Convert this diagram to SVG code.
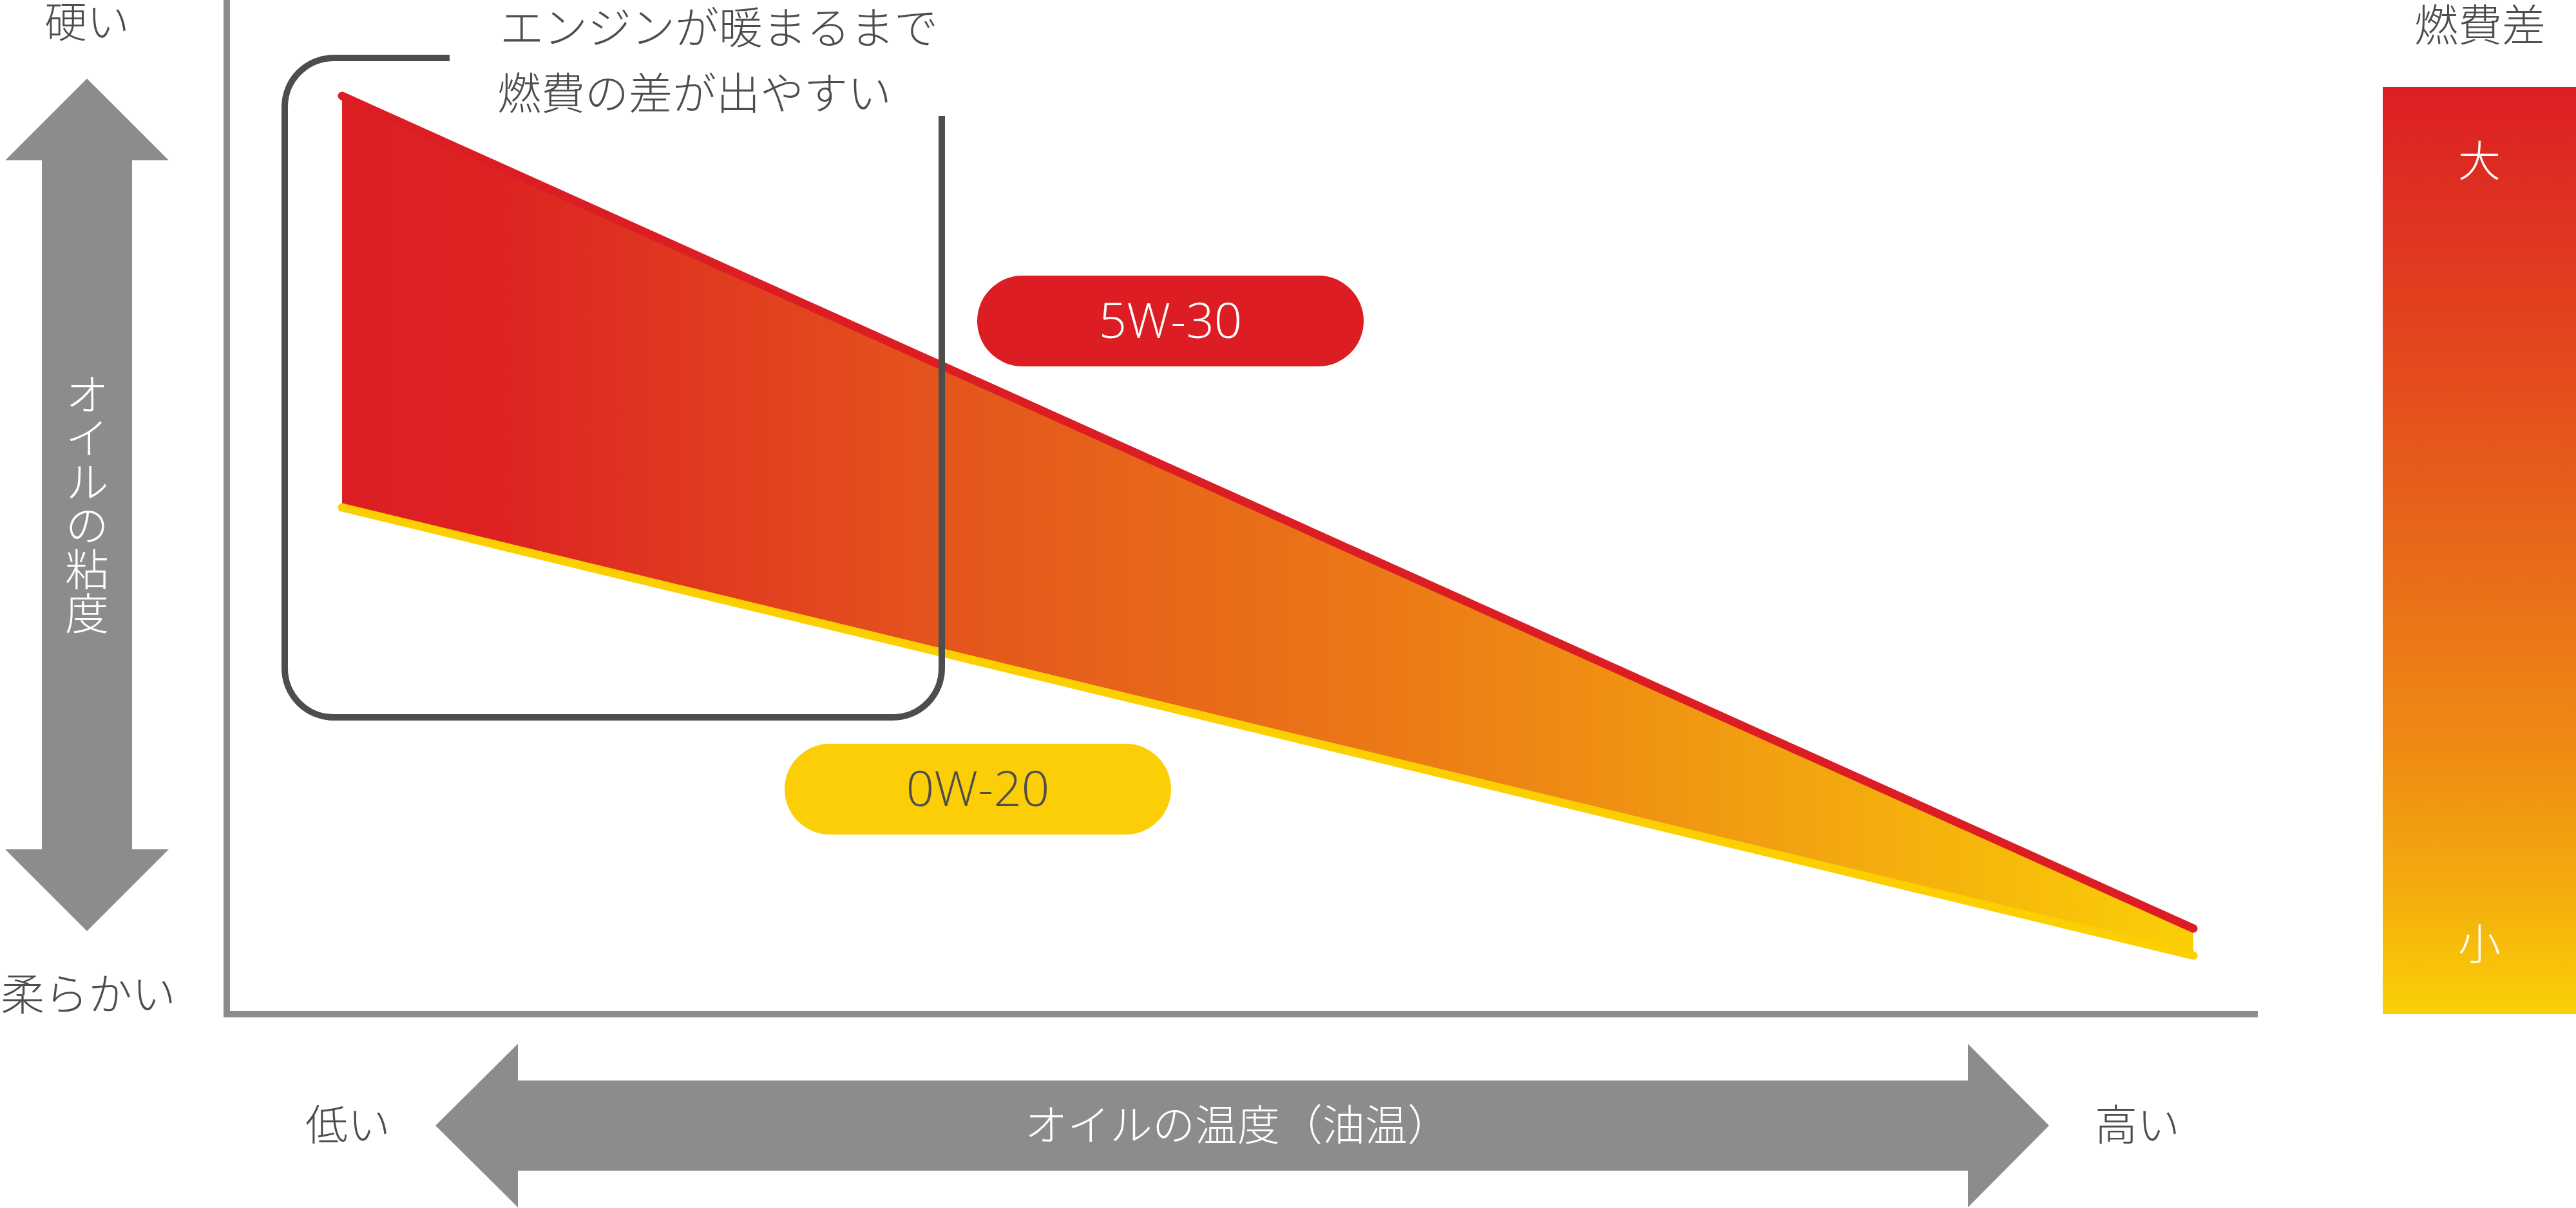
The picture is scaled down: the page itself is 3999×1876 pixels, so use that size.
<svg xmlns="http://www.w3.org/2000/svg" width="3999" height="1876" viewBox="0 0 3999 1876">
<style>
  .t { font-family: "Noto Sans CJK JP Light", "Noto Sans CJK JP", "Noto Sans", sans-serif; font-weight: 300; }
  .lat { font-family: "Open Sans Light", "Open Sans", "Noto Sans CJK JP Light", "Noto Sans CJK JP", sans-serif; font-weight: 300; }
  .dark { fill: #4d4d4d; }
  .white { fill: #ffffff; }
  .mid { text-anchor: middle; }
  .gray { fill: #8c8c8c; }
  .axis { stroke: #8c8c8c; stroke-width: 10; fill: none; }
</style>
<defs>
  <linearGradient id="bandGrad" gradientUnits="userSpaceOnUse" x1="531" y1="0" x2="3405" y2="0">
    <stop offset="0" stop-color="#dc1f24"/>
    <stop offset="0.08" stop-color="#dd2223"/>
    <stop offset="0.32" stop-color="#e4541c"/>
    <stop offset="0.56" stop-color="#eb7816"/>
    <stop offset="0.78" stop-color="#f2a210"/>
    <stop offset="1" stop-color="#fbcf07"/>
  </linearGradient>
  <linearGradient id="legendGrad" x1="0" y1="0" x2="0" y2="1">
    <stop offset="0" stop-color="#dc1f24"/>
    <stop offset="0.25" stop-color="#e2421e"/>
    <stop offset="0.5" stop-color="#e8691a"/>
    <stop offset="0.72" stop-color="#ef8c13"/>
    <stop offset="0.87" stop-color="#f4ad0e"/>
    <stop offset="1" stop-color="#fbd008"/>
  </linearGradient>
</defs>

<g id="viscosity-axis">
  <polygon class="gray" points="135,122 262,249 205,249 205,1319 262,1319 135,1446 8,1319 65,1319 65,249 8,249"/>
  <text class="t white" x="135" y="578" font-size="68" style="writing-mode: vertical-rl;">オイルの粘度</text>
  <text class="t dark mid" x="135" y="58" font-size="66">硬い</text>
  <text class="t dark mid" x="137" y="1569" font-size="68">柔らかい</text>
</g>

<g id="plot-axes">
  <line class="axis" x1="352" y1="0" x2="352" y2="1580"/>
  <line class="axis" x1="347" y1="1575" x2="3505" y2="1575"/>
</g>

<g id="temperature-axis">
  <polygon class="gray" points="676,1748 804,1621 804,1678 3055,1678 3055,1621 3181,1748 3055,1875 3055,1818 804,1818 804,1875"/>
  <text class="t white mid" x="1921" y="1771" font-size="66">オイルの温度（油温）</text>
  <text class="t dark mid" x="540" y="1771" font-size="66">低い</text>
  <text class="t dark mid" x="3318" y="1771" font-size="66">高い</text>
</g>

<g id="band">
  <polygon fill="url(#bandGrad)" points="531,149 3405,1442 3405,1484 531,788"/>
</g>

<g id="connectors">
  <line id="line-0w20" x1="531" y1="788" x2="3405" y2="1484" stroke="#fcd000" stroke-width="13" stroke-linecap="round"/>
  <line id="line-5w30" x1="531" y1="149" x2="3405" y2="1442" stroke="#dc1e24" stroke-width="13" stroke-linecap="round"/>
</g>

<g id="callout">
  <path d="M 698 90 H 518 A 76 76 0 0 0 442 166 V 1038 A 76 76 0 0 0 518 1114 H 1386 A 76 76 0 0 0 1462 1038 V 180" fill="none" stroke="#4d4d4d" stroke-width="10"/>
  <text class="t dark" x="776" y="68" font-size="68">エンジンが暖まるまで</text>
  <text class="t dark" x="772" y="170" font-size="68">燃費の差が出やすい</text>
</g>

<g id="label-5w30">
  <rect x="1517" y="428" width="600" height="141" rx="70.5" fill="#dc1e24"/>
  <text class="lat white mid" x="1817" y="525" font-size="76">5W-30</text>
</g>

<g id="label-0w20">
  <rect x="1218" y="1155" width="600" height="141" rx="70.5" fill="#fbce07"/>
  <text class="lat dark mid" x="1518" y="1252" font-size="76">0W-20</text>
</g>

<g id="legend">
  <text class="t dark mid" x="3850" y="64" font-size="68">燃費差</text>
  <rect x="3699" y="135" width="300" height="1440" fill="url(#legendGrad)"/>
  <text class="t white mid" x="3849" y="274" font-size="66">大</text>
  <text class="t white mid" x="3849" y="1490" font-size="66">小</text>
</g>
</svg>
